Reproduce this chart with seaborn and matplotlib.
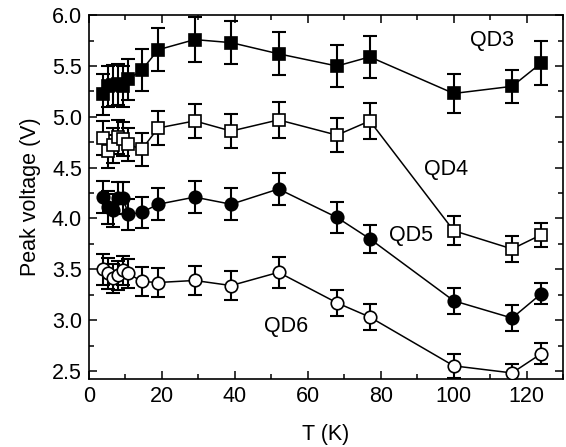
import matplotlib
matplotlib.use("Agg")
import matplotlib.pyplot as plt
import seaborn as sns
import pandas as pd
from matplotlib.ticker import MultipleLocator

T = [4, 5.3, 6.7, 8, 9.4, 10.8, 14.5, 19, 29, 39, 52, 68, 77, 100, 116, 124]

qd3 = [5.22, 5.30, 5.31, 5.32, 5.30, 5.37, 5.46, 5.66, 5.76, 5.73, 5.62, 5.50, 5.59, 5.23, 5.30, 5.53]
qd3_err = [0.20, 0.20, 0.20, 0.20, 0.20, 0.20, 0.21, 0.21, 0.22, 0.21, 0.21, 0.21, 0.21, 0.19, 0.16, 0.22]

qd4 = [4.79, 4.66, 4.72, 4.80, 4.78, 4.73, 4.68, 4.89, 4.96, 4.86, 4.97, 4.82, 4.96, 3.88, 3.70, 3.84]
qd4_err = [0.17, 0.16, 0.17, 0.17, 0.17, 0.16, 0.16, 0.17, 0.17, 0.17, 0.18, 0.17, 0.175, 0.14, 0.125, 0.12]

qd5 = [4.21, 4.11, 4.08, 4.20, 4.20, 4.04, 4.06, 4.14, 4.21, 4.14, 4.29, 4.01, 3.80, 3.19, 3.02, 3.26]
qd5_err = [0.16, 0.16, 0.16, 0.16, 0.16, 0.15, 0.15, 0.155, 0.16, 0.155, 0.16, 0.155, 0.14, 0.125, 0.13, 0.105]

qd6 = [3.50, 3.46, 3.41, 3.44, 3.49, 3.46, 3.38, 3.37, 3.39, 3.34, 3.47, 3.17, 3.03, 2.55, 2.48, 2.67]
qd6_err = [0.15, 0.15, 0.14, 0.14, 0.14, 0.14, 0.14, 0.14, 0.14, 0.14, 0.155, 0.13, 0.125, 0.115, 0.09, 0.105]

series_names = ["QD3", "QD4", "QD5", "QD6"]
label_pos = {"QD3": (110.5, 5.75), "QD4": (98, 4.48), "QD5": (88.3, 3.83), "QD6": (54, 2.94)}

sns.set_style("ticks")
plt.rcParams['font.family'] = ['Liberation Sans', 'DejaVu Sans']
plt.rcParams['text.color'] = 'black'
plt.rcParams['axes.labelcolor'] = 'black'
plt.rcParams['xtick.color'] = 'black'
plt.rcParams['ytick.color'] = 'black'
plt.rcParams['axes.edgecolor'] = 'black'

fig = plt.figure(figsize=(5.66, 4.47), dpi=100)
ax = fig.add_axes([0.157, 0.152, 0.838, 0.814])

data = {"QD3": (qd3, qd3_err, "s", "black"),
        "QD4": (qd4, qd4_err, "s", "white"),
        "QD5": (qd5, qd5_err, "o", "black"),
        "QD6": (qd6, qd6_err, "o", "white")}

for name in series_names:
    vals, errs, mk, fc = data[name]
    df = pd.DataFrame({"T": T, "V": vals})
    ax.errorbar(T, vals, yerr=errs, fmt="none", ecolor="black", elinewidth=1.5,
                capsize=5, capthick=1.5, zorder=2)
    sns.lineplot(data=df, x="T", y="V", ax=ax, color="black", linewidth=1.1,
                 marker=mk, markersize=8.5 if mk == "s" else 9, markerfacecolor=fc,
                 markeredgecolor="black", markeredgewidth=1.2, sort=False,
                 estimator=None, zorder=3)
    tx, ty = label_pos[name]
    ax.text(tx, ty, name, fontsize=15.5, ha="center", va="center", color="black")

ax.set_xlim(0, 130)
ax.set_ylim(2.42, 6.0)
ax.xaxis.set_major_locator(MultipleLocator(20))
ax.xaxis.set_minor_locator(MultipleLocator(10))
ax.yaxis.set_minor_locator(MultipleLocator(0.25))
ax.set_yticks([2.5, 3.0, 3.5, 4.0, 4.5, 5.0, 5.5, 6.0])
ax.set_yticklabels(["2.5", "3.0", "3.5", "4.0", "4.5", "5.0", "5.5", "6.0"])
ax.tick_params(which="both", direction="in", top=True, right=True, width=1.1,
               labelsize=15.5, colors="black")
ax.tick_params(which="major", length=6, pad=5)
ax.tick_params(which="minor", length=3.5)
for s in ax.spines.values():
    s.set_linewidth(1.2)
    s.set_color("black")
ax.set_xlabel("T (K)", fontsize=15.5, labelpad=12)
ax.set_ylabel("Peak voltage (V)", fontsize=15.5, labelpad=8)

fig.savefig("out.png", dpi=100)
